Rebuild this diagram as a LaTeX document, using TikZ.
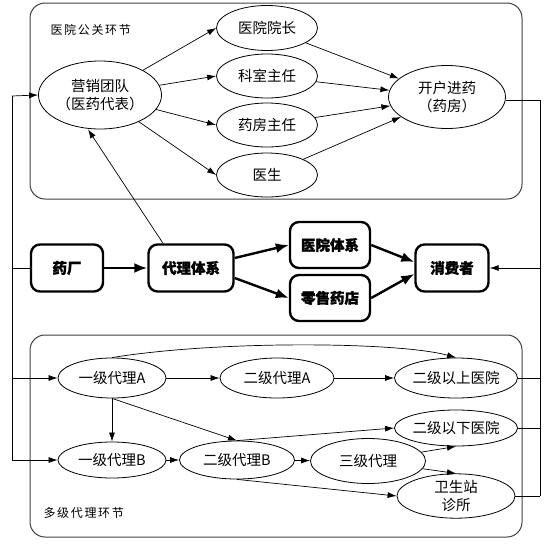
\documentclass[tikz,border=0pt]{standalone}
\usepackage{fontspec}
\setmainfont{Noto Sans CJK SC}[BoldFeatures={FakeBold=1.5}]
\newfontfamily\lblfont[LetterSpace=14]{Noto Sans CJK SC}
\usetikzlibrary{shapes.geometric,arrows.meta}
\begin{document}
\begin{tikzpicture}[x=1pt,y=1pt,
  ell/.style={draw, ellipse, inner sep=0pt, line width=0.8pt, align=center, font=\fontsize{14.5}{18}\selectfont},
  bbox/.style={draw, line width=2.4pt, rounded corners=9pt, inner sep=0pt, font=\fontsize{14.5}{18}\selectfont\bfseries},
  frame/.style={draw=black!75, line width=1pt, rounded corners=15pt},
  arr/.style={-{Latex[length=9pt,width=6pt]}, line width=0.7pt},
  barr/.style={-{Latex[length=13pt,width=10pt]}, line width=2.4pt}
]
\useasboundingbox (0,0) rectangle (548,-546);
% two stages
\draw[frame] (30,-3) rectangle (522,-199);
\draw[frame] (30,-335) rectangle (522,-537);
\node[anchor=west, font=\fontsize{12}{14}\lblfont] (tl) at (47,-30) {医院公关环节};
\node[anchor=west, font=\fontsize{12}{14}\lblfont] (bl) at (40,-513) {多级代理环节};
% hospital side
\node[ell, minimum width=117pt, minimum height=68pt] (yx) at (100,-95) {营销团队\\（医药代表）};
\node[ell, minimum width=101pt, minimum height=45pt] (yz) at (267,-28) {医院院长};
\node[ell, minimum width=101pt, minimum height=44pt] (ks) at (267,-76) {科室主任};
\node[ell, minimum width=101pt, minimum height=44pt] (yf) at (267,-125) {药房主任};
\node[ell, minimum width=101pt, minimum height=44pt] (ys) at (267,-175) {医生};
\node[ell, minimum width=117pt, minimum height=63pt] (kh) at (447,-97) {开户进药\\（药房）};
% main chain
\node[bbox, minimum width=72pt, minimum height=47pt] (yc) at (67,-268) {药厂};
\node[bbox, minimum width=85pt, minimum height=47pt] (dl) at (191,-268) {代理体系};
\node[bbox, minimum width=80pt, minimum height=46pt] (yy) at (330,-245) {医院体系};
\node[bbox, minimum width=80pt, minimum height=46pt] (ls) at (330,-298) {零售药店};
\node[bbox, minimum width=73pt, minimum height=47pt] (xf) at (452,-268) {消费者};
% agent side
\node[ell, minimum width=108pt, minimum height=40pt] (a1) at (112,-378) {一级代理A};
\node[ell, minimum width=114pt, minimum height=40pt] (a2) at (277,-378) {二级代理A};
\node[ell, minimum width=118pt, minimum height=40pt] (h1) at (456,-378) {二级以上医院};
\node[ell, minimum width=108pt, minimum height=36pt] (b1) at (112,-460) {一级代理B};
\node[ell, minimum width=115pt, minimum height=38pt] (b2) at (237,-460) {二级代理B};
\node[ell, minimum width=115pt, minimum height=45pt] (c3) at (368,-461) {三级代理};
\node[ell, minimum width=118pt, minimum height=36pt] (h2) at (456,-428) {二级以下医院};
\node[ell, minimum width=118pt, minimum height=42pt] (ws) at (456,-496) {卫生站\\诊所};
% side rails
\coordinate (l1) at (12,-96);
\coordinate (l2) at (12,-378);
\coordinate (l3) at (12,-460);
\coordinate (r1) at (540,-100);
\coordinate (r2) at (540,-268);
\coordinate (r3) at (540,-378);
\coordinate (r4) at (540,-428);
\coordinate (r5) at (540,-496);
\draw[line width=0.8pt] (l1) -- (l3);
\draw[line width=0.8pt] (yc.west) -- (12,-268);
\draw[arr] (l1) -- (yx.west);
\draw[arr] (l2) -- (a1.west);
\draw[arr] (l3) -- (b1.west);
\draw[line width=0.8pt] (kh.east |- r1) -- (r1) -- (r5);
\draw[line width=0.8pt] (h1.east) -- (r3);
\draw[line width=0.8pt] (h2.east) -- (r4);
\draw[line width=0.8pt] (ws.east) -- (r5);
\draw[arr] (r2) -- (xf.east);
% hospital links
\draw[arr] (yx) -- (yz.west);
\draw[arr] (yx) -- (ks.west);
\draw[arr] (yx) -- (yf.west);
\draw[arr] (yx) -- (ys.west);
\draw[arr] (yz) -- (kh);
\draw[arr] (ks) -- (kh);
\draw[arr] (yf) -- (kh);
\draw[arr] (ys) -- (kh);
\draw[arr] ([xshift=-28pt]dl.north) -- ([xshift=-12pt]yx.south);
% main links
\draw[barr] (yc) -- (dl);
\draw[barr] ([yshift=10pt]dl.east) -- (yy.west);
\draw[barr] ([yshift=-10pt]dl.east) -- (ls.west);
\draw[barr] (yy.east) -- ([yshift=6pt]xf.west);
\draw[barr] (ls.east) -- ([yshift=-6pt]xf.west);
% agent links
\draw[arr] (a1) -- (a2);
\draw[arr] (a2) -- (h1);
\draw[arr] (a1.north) .. controls (220,-340) and (400,-342) .. (h1.north);
\draw[arr] (a1) -- (b1);
\draw[arr] (a1.south) -- (b2.north);
\draw[arr] (b1) -- (b2);
\draw[arr] (b2) -- (c3);
\draw[arr] (b2.north) -- (h2.west);
\draw[arr] (b2.south) -- (ws.west);
\draw[arr] (c3) -- (h2.south);
\draw[arr] (c3) -- (ws.north);
\end{tikzpicture}
\end{document}
